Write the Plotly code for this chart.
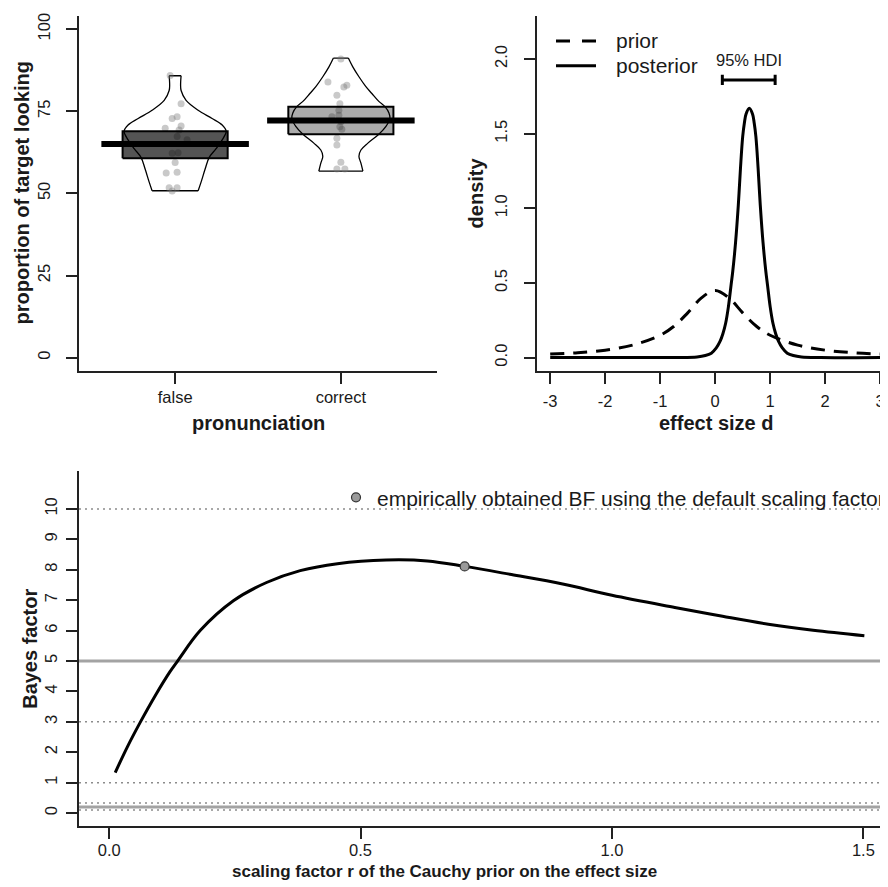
import plotly.graph_objects as go

# The page body has an 8px margin, so the figure is drawn 8px smaller and
# every reference pixel position is shifted by that margin.
PAGE_MARGIN = 8
W, H = 888 - PAGE_MARGIN, 887 - PAGE_MARGIN
FONT = "Liberation Sans, Arial, Helvetica, sans-serif"
INK = "#1a1a1a"

# ---------------- data: panel A (pirate plot) ----------------
groups = ["false", "correct"]
group_pos = [1, 2]
group_means = [65.0, 72.2]
band_low = [60.7, 68.0]
band_high = [68.9, 76.4]
band_fill = ["rgba(0,0,0,0.67)", "rgba(0,0,0,0.33)"]

false_y = [85.9, 77.3, 72.8, 73.3, 69.8, 70.5, 69.3, 67.3, 66.3, 62.2, 62.4, 59.4, 56.2, 56.4, 51.7, 51.7, 50.7]
false_jit = [-0.030, 0.036, -0.018, 0.012, -0.060, 0.036, 0.024, 0.012, 0.072, -0.018, 0.018, 0.0, -0.054, 0.012, -0.036, 0.012, -0.018]
correct_y = [90.9, 83.9, 82.4, 82.9, 79.9, 77.3, 75.3, 73.8, 73.3, 71.8, 70.3, 69.5, 66.8, 64.7, 59.5, 57.4, 57.4]
correct_jit = [0.0, -0.078, 0.018, 0.036, -0.024, -0.006, -0.012, -0.012, -0.054, 0.0, -0.006, 0.006, -0.024, -0.024, 0.0, -0.024, 0.024]

false_bean_y = [85.8, 83.0, 81.3, 78.3, 75.3, 72.8, 70.8, 68.9, 66.3, 63.6, 60.9, 57.4, 53.5, 50.8]
false_bean_w = [0.036, 0.033, 0.036, 0.066, 0.139, 0.223, 0.284, 0.308, 0.284, 0.247, 0.205, 0.181, 0.157, 0.139]
correct_bean_y = [91.2, 88.5, 85.5, 82.5, 80.4, 78.0, 76.4, 74.5, 72.8, 70.4, 68.0, 65.3, 63.2, 61.3, 59.2, 56.8]
correct_bean_w = [0.045, 0.072, 0.109, 0.151, 0.187, 0.229, 0.266, 0.290, 0.296, 0.272, 0.229, 0.163, 0.121, 0.109, 0.121, 0.133]
prop_ticks = [0, 25, 50, 75, 100]

# ---------------- data: panel B (prior / posterior) ----------------
prior_x = [-3, -2.5, -2, -1.5, -1, -0.75, -0.5, -0.25, 0, 0.25, 0.5, 0.75, 1, 1.5, 2, 2.5, 3]
prior_y = [0.024, 0.033, 0.05, 0.084, 0.15, 0.21, 0.30, 0.40, 0.45, 0.40, 0.30, 0.21, 0.15, 0.084, 0.05, 0.033, 0.024]
post_x = [-3.0, -1.0, -0.68, -0.33, -0.18, -0.07, 0.02, 0.09, 0.14, 0.19, 0.24, 0.29, 0.32, 0.37, 0.42,
          0.46, 0.50, 0.53, 0.56, 0.62, 0.68, 0.71, 0.74, 0.78, 0.82, 0.87, 0.92, 0.95, 1.00, 1.05,
          1.10, 1.15, 1.22, 1.31, 1.42, 1.57, 1.92, 3.0]
post_y = [0, 0, 0.001, 0.005, 0.014, 0.03, 0.065, 0.11, 0.16, 0.23, 0.34, 0.49, 0.58, 0.77, 1.02,
          1.27, 1.48, 1.57, 1.63, 1.67, 1.63, 1.57, 1.48, 1.27, 1.02, 0.77, 0.58, 0.49, 0.34, 0.23,
          0.16, 0.11, 0.065, 0.03, 0.014, 0.005, 0.001, 0]
hdi = [0.13, 1.09]
hdi_label = "95% HDI"
density_ticks = [0, 0.5, 1.0, 1.5, 2.0]
density_ticktext = ["0.0", "0.5", "1.0", "1.5", "2.0"]
effect_ticks = [-3, -2, -1, 0, 1, 2, 3]
effect_ticktext = ["-3", "-2", "-1", "0", "1", "2", "3"]

# ---------------- data: panel C (robustness) ----------------
r_scale = [0.012, 0.036, 0.062, 0.093, 0.121, 0.137, 0.181, 0.247, 0.313, 0.38, 0.454, 0.551,
           0.633, 0.707, 0.80, 0.902, 1.0, 1.125, 1.22, 1.311, 1.40, 1.502]
bayes_factor = [1.33, 2.17, 2.99, 3.9, 4.65, 5.02, 6.0, 6.98, 7.58, 7.97, 8.20, 8.32,
                8.29, 8.11, 7.84, 7.53, 7.16, 6.76, 6.47, 6.21, 6.01, 5.83]
default_r = [0.707]
default_bf = [8.11]
bf_solid_refs = [5, 0.2]
bf_dotted_refs = [10, 3, 1, 1 / 3, 1 / 10]
r_ticks = [0, 0.5, 1.0, 1.5]
r_ticktext = ["0.0", "0.5", "1.0", "1.5"]
bf_ticks = list(range(0, 11))
legend_text_c = "empirically obtained BF using the default scaling factor"


def px(x):
    """reference-image x pixel -> paper fraction"""
    return (x - PAGE_MARGIN) / W


def py(y):
    """reference-image y pixel -> paper fraction"""
    return 1 - (y - PAGE_MARGIN) / H


fig = go.Figure()

# ---------- panel A ----------
beans = [(false_bean_y, false_bean_w), (correct_bean_y, correct_bean_w)]
pts = [(false_y, false_jit), (correct_y, correct_jit)]
BAND_HW = 0.317
MEAN_HW = 0.445
for i, c in enumerate(group_pos):
    by, bw = beans[i]
    for sgn in (1, -1):
        fig.add_trace(go.Scatter(x=[c + sgn * w for w in bw], y=by, mode="lines",
                                 line=dict(color="black", width=1.3, shape="spline", smoothing=1),
                                 xaxis="x", yaxis="y", hoverinfo="skip"))
    fig.add_trace(go.Scatter(x=[c - bw[0], c + bw[0], None, c - bw[-1], c + bw[-1]],
                             y=[by[0], by[0], None, by[-1], by[-1]], mode="lines",
                             line=dict(color="black", width=1.3), xaxis="x", yaxis="y", hoverinfo="skip"))
    pyv, pj = pts[i]
    fig.add_trace(go.Scatter(x=[c + j for j in pj], y=pyv, mode="markers",
                             marker=dict(size=7, color="rgba(120,120,120,0.4)", line=dict(width=0)),
                             xaxis="x", yaxis="y", hoverinfo="skip"))
    fig.add_trace(go.Scatter(x=[c - BAND_HW, c + BAND_HW, c + BAND_HW, c - BAND_HW, c - BAND_HW],
                             y=[band_low[i], band_low[i], band_high[i], band_high[i], band_low[i]],
                             mode="lines", fill="toself", fillcolor=band_fill[i],
                             line=dict(color="black", width=2), xaxis="x", yaxis="y", hoverinfo="skip"))
    fig.add_trace(go.Scatter(x=[c - MEAN_HW, c + MEAN_HW], y=[group_means[i]] * 2, mode="lines",
                             line=dict(color="black", width=6), xaxis="x", yaxis="y", hoverinfo="skip"))

# ---------- panel B ----------
fig.add_trace(go.Scatter(x=prior_x, y=prior_y, mode="lines",
                         line=dict(color="black", width=3, dash="14px,9px", shape="spline"),
                         xaxis="x2", yaxis="y2", hoverinfo="skip"))
fig.add_trace(go.Scatter(x=post_x, y=post_y, mode="lines",
                         line=dict(color="black", width=3, shape="spline"),
                         xaxis="x2", yaxis="y2", hoverinfo="skip"))
HDI_Y = 1.86
CAP = 0.034
shapes = []
shapes.append(dict(type="line", xref="x2", yref="y2", x0=hdi[0], x1=hdi[1], y0=HDI_Y, y1=HDI_Y,
                   line=dict(color="black", width=3)))
for h in hdi:
    shapes.append(dict(type="line", xref="x2", yref="y2", x0=h, x1=h, y0=HDI_Y - CAP, y1=HDI_Y + CAP,
                       line=dict(color="black", width=3)))
# legend keys panel B
shapes.append(dict(type="line", xref="paper", yref="paper", x0=px(556), x1=px(596), y0=py(38), y1=py(38),
                   line=dict(color="black", width=3, dash="14px,12px")))
shapes.append(dict(type="line", xref="paper", yref="paper", x0=px(556), x1=px(596), y0=py(63), y1=py(63),
                   line=dict(color="black", width=3)))

# ---------- panel C ----------
for v in bf_dotted_refs:
    shapes.append(dict(type="line", xref="x3 domain", yref="y3", x0=0, x1=1, y0=v, y1=v, layer="below",
                       line=dict(color="#8c8c8c", width=1.5, dash="2px,4px")))
for v in bf_solid_refs:
    shapes.append(dict(type="line", xref="x3 domain", yref="y3", x0=0, x1=1, y0=v, y1=v, layer="below",
                       line=dict(color="#a3a3a3", width=3)))
fig.add_trace(go.Scatter(x=r_scale, y=bayes_factor, mode="lines",
                         line=dict(color="black", width=3, shape="spline"),
                         xaxis="x3", yaxis="y3", hoverinfo="skip"))
fig.add_trace(go.Scatter(x=default_r, y=default_bf, mode="markers",
                         marker=dict(size=9, color="#9a9a9a", line=dict(color="#333333", width=1.2)),
                         xaxis="x3", yaxis="y3", hoverinfo="skip"))
shapes.append(dict(type="circle", xref="paper", yref="paper", xsizemode="pixel", ysizemode="pixel",
                   xanchor=px(356), yanchor=py(496), x0=-4.5, x1=4.5, y0=-4.5, y1=4.5,
                   fillcolor="#9a9a9a", line=dict(color="#333333", width=1.2)))

annotations = []


def ann(text, x, y, size, bold=False, angle=0, xanchor="center", xref="paper", yref="paper"):
    annotations.append(dict(text=("<b>%s</b>" % text) if bold else text, x=x, y=y, xref=xref, yref=yref,
                            showarrow=False, textangle=angle, xanchor=xanchor, yanchor="middle",
                            font=dict(family=FONT, size=size, color=INK)))


ann("proportion of target looking", px(22), py(191), 20, bold=True, angle=-90)
ann("pronunciation", px(258), py(421), 20, bold=True)
ann("density", px(476), py(191), 20, bold=True, angle=-90)
ann("effect size d", px(716), py(421), 20, bold=True)
ann("Bayes factor", px(30), py(648), 20, bold=True, angle=-90)
ann("scaling factor r of the Cauchy prior on the effect size", px(444), py(871), 17, bold=True)
ann("prior", px(614), py(38), 21, xanchor="left")
ann("posterior", px(614), py(63), 21, xanchor="left")
ann(hdi_label, (hdi[0] + hdi[1]) / 2, 1.99, 16.5, xref="x2", yref="y2")
ann(legend_text_c, px(375), py(497), 21, xanchor="left")


def axis(**kw):
    d = dict(showline=True, linecolor="#222222", linewidth=2, ticks="outside", ticklen=11, tickwidth=2,
             tickcolor="#222222", showgrid=False, zeroline=False, fixedrange=True,
             tickfont=dict(family=FONT, size=16.5, color=INK))
    d.update(kw)
    return d


top_dom = [py(369), py(13)]
fig.update_layout(
    width=W, height=H, margin=dict(l=0, r=0, t=0, b=0), paper_bgcolor="white", plot_bgcolor="white",
    showlegend=False, shapes=shapes, annotations=annotations,
    xaxis=axis(domain=[px(79), px(437)], range=[0.42, 2.58], tickvals=group_pos, ticktext=groups,
               anchor="y", ticklabelstandoff=-1),
    yaxis=axis(domain=top_dom, range=[-4, 104], tickvals=prop_ticks, tickangle=-90,
               anchor="x", ticklabelstandoff=9),
    xaxis2=axis(domain=[px(537), 1.0], range=[-3.24, 3.142], tickvals=effect_ticks, ticktext=effect_ticktext,
                anchor="y2", ticklabelstandoff=3),
    yaxis2=axis(domain=top_dom, range=[-0.088, 2.288], tickvals=density_ticks, ticktext=density_ticktext,
                tickangle=-90, anchor="x2", ticklabelstandoff=10),
    xaxis3=axis(domain=[px(79), 1.0], range=[-0.06, 1.549], tickvals=r_ticks, ticktext=r_ticktext,
                anchor="y3", ticklabelstandoff=-3),
    yaxis3=axis(domain=[py(826), py(470)], range=[-0.432, 11.232], tickvals=bf_ticks, tickangle=-90,
                anchor="x3", ticklabelstandoff=2),
)

fig.write_html("out.html")
